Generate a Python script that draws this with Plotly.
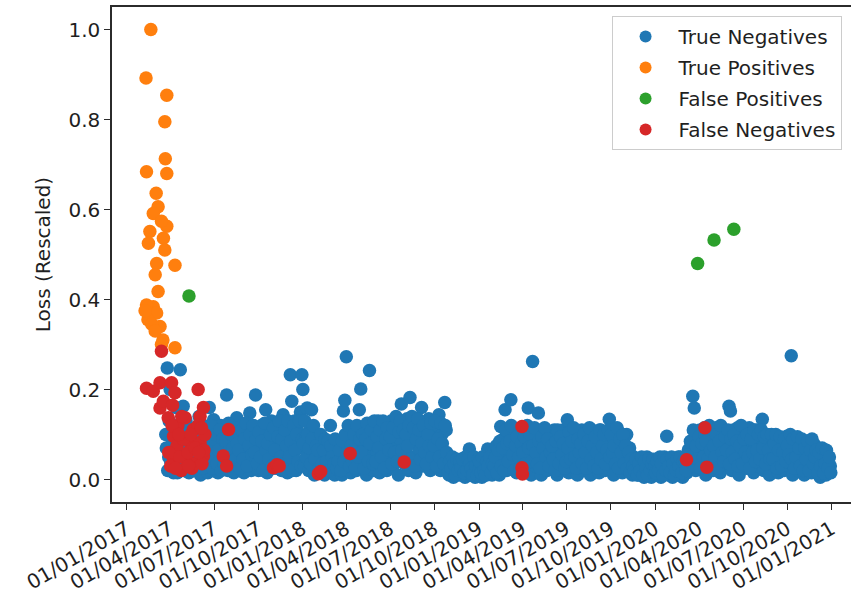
import pandas as pd
import plotly.graph_objects as go

# ---------------------------------------------------------------
# True negatives: rescaled loss, two interleaved samples per three days
# (main sample on day 0, second sample on day 1 of each 3-day step)
# ---------------------------------------------------------------
tn_2017_start = "2017-03-23"
tn_2017 = [
    0.10, 0.248, 0.05, 0.20, 0.02, 0.12, 0.03, 0.16, 0.015, 0.09,
    0.244, 0.04, 0.163, 0.02, 0.13, 0.06, 0.015, 0.11, 0.03, 0.09,
    0.02, 0.10, 0.05, 0.14, 0.01, 0.08, 0.12, 0.03, 0.06, 0.015,
    0.16, 0.02, 0.09, 0.133, 0.04, 0.11, 0.015, 0.07, 0.12, 0.03,
    0.06, 0.11, 0.188, 0.02, 0.12, 0.05, 0.09, 0.015, 0.105, 0.137,
    0.03, 0.10, 0.06, 0.12, 0.015, 0.08, 0.11, 0.04, 0.148, 0.02,
    0.09, 0.03, 0.188, 0.11, 0.02, 0.07, 0.12, 0.04, 0.10, 0.155,
    0.015, 0.11, 0.06, 0.13, 0.025, 0.09, 0.12, 0.04, 0.07, 0.11,
    0.02, 0.144, 0.06, 0.12, 0.015, 0.10, 0.233, 0.174, 0.04, 0.13,
    0.02, 0.11, 0.07, 0.15, 0.233,
]
tn_2017_b_start = "2017-03-24"
tn_2017_b = [
    0.07, 0.02, 0.13, 0.04, 0.09, 0.015, 0.06, 0.11, 0.03, 0.08,
    0.05, 0.12, 0.02, 0.09, 0.04, 0.11, 0.07, 0.025, 0.10, 0.055,
    0.08, 0.03, 0.12, 0.06, 0.10, 0.025, 0.09, 0.045, 0.11, 0.07,
    0.05, 0.12, 0.025, 0.08, 0.10, 0.035, 0.065, 0.11, 0.02, 0.09,
    0.035, 0.085, 0.06, 0.125, 0.03, 0.10, 0.07, 0.115, 0.045, 0.08,
    0.065, 0.025, 0.11, 0.045, 0.09, 0.125, 0.03, 0.075, 0.10, 0.055,
    0.12, 0.06, 0.09, 0.035, 0.105, 0.05, 0.085, 0.02, 0.125, 0.065,
    0.08, 0.045, 0.10, 0.03, 0.115, 0.065, 0.025, 0.095, 0.13, 0.05,
    0.09, 0.035, 0.11, 0.075, 0.13, 0.05, 0.085, 0.02, 0.12, 0.065,
    0.10, 0.04, 0.13, 0.03, 0.09,
]

tn_2018_start = "2018-01-01"
tn_2018 = [
    0.20, 0.03, 0.09, 0.159, 0.02, 0.11, 0.155, 0.06, 0.01, 0.10,
    0.04, 0.09, 0.015, 0.08, 0.05, 0.01, 0.07, 0.03, 0.06, 0.12,
    0.02, 0.075, 0.01, 0.05, 0.08, 0.03, 0.06, 0.01, 0.152, 0.176,
    0.273, 0.04, 0.09, 0.015, 0.11, 0.06, 0.10, 0.02, 0.08, 0.155,
    0.201, 0.03, 0.11, 0.07, 0.01, 0.12, 0.242, 0.05, 0.09, 0.02,
    0.12, 0.06, 0.13, 0.015, 0.10, 0.04, 0.125, 0.08, 0.02, 0.11,
    0.05, 0.13, 0.03, 0.10, 0.07, 0.125, 0.01, 0.09, 0.168, 0.04,
    0.12, 0.06, 0.135, 0.02, 0.182, 0.09, 0.05, 0.13, 0.015, 0.11,
    0.07, 0.13, 0.16, 0.03, 0.10, 0.12, 0.05, 0.135, 0.02, 0.09,
    0.11, 0.04, 0.12, 0.07, 0.144, 0.02, 0.10, 0.06, 0.171, 0.11,
    0.03, 0.01, 0.045, 0.02, 0.005, 0.04, 0.015, 0.03, 0.01, 0.045,
    0.02, 0.04, 0.005, 0.03, 0.015, 0.068, 0.01, 0.04, 0.02, 0.005,
    0.035, 0.015,
]
tn_2018_b_start = "2018-01-02"
tn_2018_b = [
    0.08, 0.13, 0.05, 0.10, 0.07, 0.035, 0.09, 0.12, 0.045, 0.075,
    0.065, 0.025, 0.10, 0.035, 0.065, 0.09, 0.04, 0.085, 0.02, 0.075,
    0.05, 0.035, 0.09, 0.025, 0.04, 0.065, 0.02, 0.085, 0.04, 0.10,
    0.06, 0.12, 0.03, 0.075, 0.04, 0.10, 0.025, 0.12, 0.05, 0.09,
    0.06, 0.10, 0.025, 0.09, 0.125, 0.04, 0.08, 0.11, 0.035, 0.13,
    0.04, 0.095, 0.07, 0.11, 0.05, 0.13, 0.025, 0.09, 0.115, 0.065,
    0.095, 0.035, 0.115, 0.06, 0.14, 0.04, 0.105, 0.13, 0.065, 0.11,
    0.035, 0.10, 0.075, 0.12, 0.045, 0.14, 0.115, 0.03, 0.09, 0.135,
    0.11, 0.045, 0.08, 0.12, 0.06, 0.035, 0.10, 0.075, 0.125, 0.05,
    0.075, 0.13, 0.03, 0.09, 0.05, 0.125, 0.08, 0.035, 0.12, 0.06,
    0.015, 0.04, 0.025, 0.05, 0.035, 0.01, 0.045, 0.02, 0.04, 0.025,
    0.045, 0.015, 0.05, 0.02, 0.045, 0.035, 0.025, 0.01, 0.05, 0.03,
    0.01, 0.045,
]

tn_2019_start = "2019-01-01"
tn_2019 = [
    0.02, 0.04, 0.005, 0.03, 0.05, 0.01, 0.068, 0.025, 0.045, 0.01,
    0.06, 0.02, 0.075, 0.04, 0.01, 0.118, 0.05, 0.09, 0.155, 0.02,
    0.10, 0.06, 0.177, 0.03, 0.09, 0.11, 0.015, 0.07, 0.10, 0.04,
    0.11, 0.02, 0.08, 0.105, 0.159, 0.05, 0.01, 0.262, 0.09, 0.03,
    0.11, 0.148, 0.06, 0.01, 0.10, 0.04, 0.11, 0.02, 0.08, 0.105,
    0.03, 0.09, 0.11, 0.05, 0.01, 0.10, 0.07, 0.02, 0.11, 0.045,
    0.09, 0.133, 0.015, 0.10, 0.06, 0.03, 0.11, 0.08, 0.01, 0.10,
    0.05, 0.11, 0.02, 0.09, 0.105, 0.04, 0.07, 0.01, 0.11, 0.06,
    0.03, 0.10, 0.08, 0.015, 0.11, 0.05, 0.09, 0.02, 0.105, 0.07,
    0.134, 0.03, 0.09, 0.01, 0.10, 0.06, 0.107, 0.04, 0.08, 0.015,
    0.09, 0.05, 0.10, 0.02, 0.07, 0.04, 0.01, 0.05, 0.03, 0.045,
    0.01, 0.04, 0.02, 0.045, 0.005, 0.03, 0.05, 0.015, 0.04, 0.005,
    0.03, 0.02,
]
tn_2019_b_start = "2019-01-02"
tn_2019_b = [
    0.04, 0.015, 0.05, 0.02, 0.01, 0.04, 0.03, 0.05, 0.015, 0.035,
    0.03, 0.05, 0.015, 0.065, 0.085, 0.03, 0.07, 0.02, 0.11, 0.08,
    0.04, 0.085, 0.12, 0.055, 0.02, 0.075, 0.095, 0.05, 0.025, 0.08,
    0.06, 0.095, 0.035, 0.12, 0.07, 0.10, 0.04, 0.075, 0.115, 0.06,
    0.035, 0.085, 0.025, 0.095, 0.07, 0.115, 0.05, 0.09, 0.03, 0.06,
    0.075, 0.045, 0.02, 0.085, 0.11, 0.035, 0.095, 0.055, 0.08, 0.025,
    0.04, 0.07, 0.105, 0.045, 0.085, 0.115, 0.05, 0.025, 0.09, 0.06,
    0.08, 0.035, 0.10, 0.06, 0.025, 0.085, 0.115, 0.045, 0.075, 0.03,
    0.095, 0.06, 0.025, 0.11, 0.045, 0.075, 0.10, 0.035, 0.065, 0.11,
    0.05, 0.10, 0.06, 0.075, 0.035, 0.115, 0.025, 0.09, 0.06, 0.10,
    0.035, 0.075, 0.025, 0.06, 0.015, 0.045, 0.03, 0.02, 0.045, 0.01,
    0.035, 0.02, 0.05, 0.01, 0.04, 0.025, 0.01, 0.045, 0.02, 0.035,
    0.045, 0.01,
]

tn_2020_start = "2020-01-01"
tn_2020 = [
    0.03, 0.01, 0.045, 0.02, 0.005, 0.04, 0.015, 0.03, 0.096, 0.01,
    0.04, 0.02, 0.005, 0.045, 0.03, 0.01, 0.05, 0.02, 0.04, 0.005,
    0.03, 0.05, 0.015, 0.066, 0.03, 0.08, 0.185, 0.159, 0.02, 0.10,
    0.06, 0.11, 0.03, 0.09, 0.115, 0.01, 0.07, 0.105, 0.04, 0.11,
    0.02, 0.09, 0.115, 0.05, 0.10, 0.015, 0.08, 0.11, 0.035, 0.10,
    0.06, 0.163, 0.152, 0.02, 0.11, 0.07, 0.04, 0.115, 0.01, 0.09,
    0.105, 0.05, 0.11, 0.025, 0.08, 0.115, 0.04, 0.10, 0.015, 0.07,
    0.11, 0.03, 0.09, 0.06, 0.134, 0.02, 0.085, 0.05, 0.09, 0.01,
    0.07, 0.085, 0.03, 0.06, 0.09, 0.015, 0.075, 0.04, 0.085, 0.02,
    0.06, 0.096, 0.03, 0.08, 0.275, 0.01, 0.07, 0.085, 0.04, 0.02,
    0.075, 0.05, 0.085, 0.01, 0.06, 0.03, 0.08, 0.045, 0.015, 0.07,
    0.078, 0.02, 0.05, 0.035, 0.005, 0.045, 0.025, 0.052, 0.01, 0.04,
    0.02, 0.03,
]
tn_2020_b_start = "2020-01-02"
tn_2020_b = [
    0.015, 0.04, 0.02, 0.05, 0.035, 0.01, 0.05, 0.02, 0.045, 0.03,
    0.015, 0.05, 0.035, 0.01, 0.02, 0.045, 0.03, 0.05, 0.015, 0.04,
    0.045, 0.02, 0.055, 0.04, 0.085, 0.05, 0.11, 0.03, 0.075, 0.045,
    0.095, 0.025, 0.08, 0.05, 0.10, 0.085, 0.045, 0.12, 0.065, 0.03,
    0.075, 0.05, 0.10, 0.025, 0.085, 0.12, 0.06, 0.04, 0.095, 0.065,
    0.11, 0.035, 0.09, 0.06, 0.10, 0.045, 0.085, 0.03, 0.075, 0.12,
    0.035, 0.09, 0.06, 0.10, 0.05, 0.025, 0.09, 0.06, 0.11, 0.04,
    0.065, 0.10, 0.045, 0.11, 0.07, 0.095, 0.035, 0.10, 0.065, 0.045,
    0.10, 0.045, 0.08, 0.10, 0.025, 0.065, 0.095, 0.03, 0.06, 0.09,
    0.04, 0.075, 0.055, 0.10, 0.045, 0.09, 0.025, 0.05, 0.095, 0.07,
    0.03, 0.09, 0.02, 0.07, 0.045, 0.085, 0.02, 0.065, 0.09, 0.035,
    0.05, 0.065, 0.015, 0.06, 0.03, 0.07, 0.015, 0.035, 0.065, 0.025,
    0.05, 0.015,
]

# ---------------------------------------------------------------
# True positives
# ---------------------------------------------------------------
tp_dates = [
    "2017-02-20", "2017-02-10", "2017-03-25", "2017-03-21", "2017-03-22",
    "2017-02-11", "2017-03-25", "2017-03-03", "2017-03-07", "2017-02-25",
    "2017-03-25", "2017-02-18", "2017-03-14", "2017-03-18", "2017-02-15",
    "2017-03-21", "2017-03-04", "2017-04-11", "2017-03-01", "2017-03-07",
    "2017-02-25", "2017-02-11", "2017-02-18", "2017-03-04", "2017-03-11",
    "2017-02-14", "2017-02-22", "2017-03-17", "2017-03-14", "2017-04-11",
    "2017-03-01", "2017-02-08",
]
tp_loss = [
    1.000, 0.892, 0.854, 0.795, 0.713,
    0.684, 0.680, 0.636, 0.606, 0.591,
    0.563, 0.551, 0.574, 0.536, 0.525,
    0.510, 0.480, 0.476, 0.455, 0.418,
    0.384, 0.388, 0.370, 0.370, 0.340,
    0.355, 0.345, 0.310, 0.300, 0.293,
    0.330, 0.375,
]

# ---------------------------------------------------------------
# False positives
# ---------------------------------------------------------------
fp_dates = ["2017-05-10", "2020-03-29", "2020-05-02", "2020-06-12"]
fp_loss = [0.408, 0.480, 0.532, 0.556]

# ---------------------------------------------------------------
# False negatives
# ---------------------------------------------------------------
fn_dates = [
    "2017-02-11", "2017-02-25", "2017-03-11", "2017-03-11", "2017-03-14",
    "2017-03-18", "2017-03-28", "2017-04-04", "2017-04-08", "2017-04-08",
    "2017-04-11", "2017-04-15", "2017-05-02", "2017-05-05", "2017-05-12",
    "2017-05-19", "2017-05-26", "2017-05-29", "2017-06-02", "2017-06-02",
    "2017-06-09", "2017-06-09", "2017-07-20", "2017-07-27", "2017-07-31",
    "2017-03-29", "2017-04-02", "2017-04-21", "2017-04-28", "2017-05-08",
    "2017-05-16", "2017-05-23", "2017-06-12", "2017-06-06", "2017-06-10",
    "2017-04-24", "2017-05-29", "2017-04-17", "2017-04-25", "2017-04-05",
    "2017-04-19", "2017-05-09", "2017-05-14", "2017-05-30", "2017-04-12",
    "2017-06-05", "2017-04-06",
    "2017-11-01", "2017-11-08", "2017-11-13", "2018-02-02", "2018-02-07",
    "2018-04-09", "2018-07-30", "2019-03-31", "2019-03-31", "2019-04-01",
    "2020-03-06", "2020-04-13", "2020-04-17",
]
fn_loss = [
    0.203, 0.196, 0.215, 0.159, 0.285,
    0.174, 0.137, 0.215, 0.096, 0.044,
    0.193, 0.074, 0.137, 0.044, 0.082,
    0.111, 0.037, 0.200, 0.140, 0.082,
    0.160, 0.052, 0.052, 0.030, 0.111,
    0.060, 0.030, 0.050, 0.090, 0.060,
    0.025, 0.070, 0.100, 0.035, 0.065,
    0.020, 0.120, 0.120, 0.140, 0.120,
    0.100, 0.030, 0.100, 0.060, 0.025,
    0.115, 0.165,
    0.026, 0.033, 0.030, 0.013, 0.018,
    0.058, 0.039, 0.118, 0.026, 0.012,
    0.044, 0.115, 0.027,
]

# Axis ticks
x_tick_dates = [
    "2017-01-01", "2017-04-01", "2017-07-01", "2017-10-01",
    "2018-01-01", "2018-04-01", "2018-07-01", "2018-10-01",
    "2019-01-01", "2019-04-01", "2019-07-01", "2019-10-01",
    "2020-01-01", "2020-04-01", "2020-07-01", "2020-10-01",
    "2021-01-01",
]
x_tick_labels = [
    "01/01/2017", "01/04/2017", "01/07/2017", "01/10/2017",
    "01/01/2018", "01/04/2018", "01/07/2018", "01/10/2018",
    "01/01/2019", "01/04/2019", "01/07/2019", "01/10/2019",
    "01/01/2020", "01/04/2020", "01/07/2020", "01/10/2020",
    "01/01/2021",
]
y_tick_vals = [0.0, 0.2, 0.4, 0.6, 0.8, 1.0]
y_tick_labels = ["0.0", "0.2", "0.4", "0.6", "0.8", "1.0"]

# Build the true-negative time axis (3-day steps within each list)
tn_x = []
tn_y = []
for start, vals in [(tn_2017_start, tn_2017), (tn_2017_b_start, tn_2017_b),
                    (tn_2018_start, tn_2018), (tn_2018_b_start, tn_2018_b),
                    (tn_2019_start, tn_2019), (tn_2019_b_start, tn_2019_b),
                    (tn_2020_start, tn_2020), (tn_2020_b_start, tn_2020_b)]:
    tn_x.extend(pd.date_range(start, periods=len(vals), freq="3D"))
    tn_y.extend(vals)

FONT = "DejaVu Sans"
TEXT = "#1f1f1f"
SPINE = "#2b2b2b"
MSIZE = 13.5

fig = go.Figure()
series = [
    ("True Negatives", tn_x, tn_y, "#1f77b4"),
    ("True Positives", pd.to_datetime(tp_dates), tp_loss, "#ff7f0e"),
    ("False Positives", pd.to_datetime(fp_dates), fp_loss, "#2ca02c"),
    ("False Negatives", pd.to_datetime(fn_dates), fn_loss, "#d62728"),
]
for name, xs, ys, col in series:
    fig.add_trace(go.Scatter(
        x=xs, y=ys, mode="markers", name=name, legendgroup=name,
        marker=dict(size=MSIZE, color=col, line=dict(width=0)),
    ))

fig.update_layout(
    width=851, height=595,
    margin=dict(l=112, r=0, t=7, b=93),
    paper_bgcolor="white", plot_bgcolor="white",
    font=dict(family=FONT, size=20, color=TEXT),
    showlegend=True,
    legend=dict(
        x=0.676, y=0.982, xanchor="left", yanchor="top",
        bgcolor="rgba(255,255,255,0.85)", bordercolor="#cccccc", borderwidth=1,
        font=dict(family=FONT, size=20, color=TEXT),
        itemwidth=56, tracegroupgap=2, traceorder="grouped",
        itemsizing="constant",
    ),
)

fig.update_xaxes(
    type="date",
    range=["2016-12-01 12:00", "2021-02-09 19:00"],
    tickmode="array", tickvals=x_tick_dates, ticktext=x_tick_labels,
    tickangle=-30, tickfont=dict(family=FONT, size=20, color=TEXT),
    ticks="outside", ticklen=6, tickwidth=1.3, tickcolor=SPINE,
    showline=True, linecolor=SPINE, linewidth=1.5, mirror=True,
    showgrid=False, zeroline=False,
)
fig.update_yaxes(
    range=[-0.05, 1.05],
    tickmode="array", tickvals=y_tick_vals, ticktext=y_tick_labels,
    tickfont=dict(family=FONT, size=20, color=TEXT),
    ticks="outside", ticklen=6, tickwidth=1.3, tickcolor=SPINE,
    showline=True, linecolor=SPINE, linewidth=1.5, mirror=False,
    showgrid=False, zeroline=False,
    title=dict(text="Loss (Rescaled)", font=dict(family=FONT, size=20, color=TEXT),
               standoff=12),
)

fig.write_html("out.html")
